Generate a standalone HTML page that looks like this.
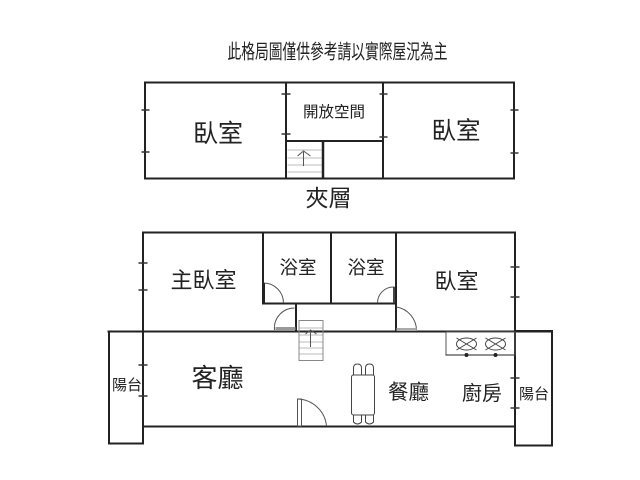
<!DOCTYPE html>
<html>
<head>
<meta charset="utf-8">
<style>
html,body{margin:0;padding:0;background:#fff}
svg{display:block}
text{font-family:"Liberation Sans","Noto Sans CJK TC",sans-serif;fill:#222}
</style>
</head>
<body>
<svg width="640" height="480" viewBox="0 0 640 480" xmlns="http://www.w3.org/2000/svg">
<rect width="640" height="480" fill="#fff"/>

<text x="337.500" y="58.500" font-size="20" text-anchor="middle" textLength="220" lengthAdjust="spacingAndGlyphs">此格局圖僅供參考請以實際屋況為主</text>

<g transform="translate(-0.500,0)">
<!-- Upper floor -->
<g fill="none" stroke="#222" stroke-width="2">
<rect x="145.500" y="82.500" width="369" height="96"/>
<path d="M286.500 82V179M383.500 82V179M287 141H383"/>
<path d="M323.500 141V179" stroke-width="2.500"/>
</g>
<g stroke="#333" stroke-width="1.500">
<path d="M142 110H150M142 152H150M282 94H291M282 134H291M380 94H388M380 137H388M511 110H519M511 153H519"/>
</g>
<g stroke="#bbb" stroke-width="1">
<path d="M288 150H322M288 158H322M288 165H322M288 172H322"/>
</g>
<path d="M304 166V152M298 156L304 151L311 156" fill="none" stroke="#555" stroke-width="1"/>

<!-- Lower floor -->
<g fill="none" stroke="#222" stroke-width="2">
<path d="M143.500 426V232.500H515.500V426"/>
<path d="M263.500 232V303.500H396M331.500 232V303M396.500 232V331M296.500 303V331"/>
<path d="M108 331.500H552"/>
<path d="M109.500 331V443.500H143.500V426"/>
<path d="M515.500 331H552.500V445.500H515.500V426"/>
<path d="M143 426.500H515"/>
</g>
<g stroke="#333" stroke-width="1.500">
<path d="M139 263H148M139 290H148M511 267H520M511 297H520M139 365H148M139 396H148M511 378H520M511 408H520"/>
</g>

<!-- Doors -->
<g fill="none" stroke="#555" stroke-width="1">
<path d="M264 283A20 20 0 0 1 284 303"/>
<path d="M295 308A20 20 0 0 0 275 330"/>
<path d="M395 287A16 16 0 0 0 378 303"/>
<path d="M397 307A24 24 0 0 1 417 330"/>
<path d="M298 399A30 30 0 0 1 327 426"/>
<rect x="298" y="399" width="4" height="27"/>
</g>
<path d="M264 283V303" stroke="#222" stroke-width="3"/>
<path d="M394.500 287V303" stroke="#444" stroke-width="2"/>
<rect x="276" y="327" width="20" height="3" fill="#999"/>
<rect x="397" y="328" width="20" height="3" fill="#aaa"/>

<!-- Stairs -->
<g fill="none" stroke="#888" stroke-width="1">
<rect x="299.500" y="320.500" width="24" height="40"/>
<path d="M300 328H323M300 335H323M300 342H323M300 348H323M300 354H323" stroke="#bbb"/>
</g>
<path d="M311 347V331M306 334L311 330L317 334" fill="none" stroke="#555" stroke-width="1"/>

<!-- Stove -->
<rect x="446.500" y="332" width="69" height="23" fill="none" stroke="#555" stroke-width="1"/>
<path d="M446 355H515" stroke="#222" stroke-width="1"/>
<g fill="none" stroke="#444" stroke-width="1">
<ellipse cx="467" cy="344" rx="10" ry="6"/>
<ellipse cx="496" cy="344" rx="10" ry="6"/>
<path d="M457 338L477 350M477 338L457 350M486 338L506 350M506 338L486 350"/>
</g>
<circle cx="467" cy="355" r="2" fill="#222"/>
<circle cx="496" cy="355" r="2" fill="#222"/>

<!-- Dining table -->
<g fill="#fff" stroke="#444" stroke-width="1">
<path d="M354 375V368Q354 364 358 364Q362 364 362 368V375Z"/>
<path d="M366 375V368Q366 364 370 364Q374 364 374 368V375Z"/>
<path d="M354 414V422Q358 426 362 422V414Z"/>
<path d="M366 414V422Q370 426 374 422V414Z"/>
<rect x="352" y="375" width="23" height="40" rx="2"/>
</g>
</g>

<text x="218" y="142" font-size="25" text-anchor="middle">臥室</text>
<text x="456" y="139" font-size="24.500" text-anchor="middle">臥室</text>
<text x="334" y="117" font-size="15.500" text-anchor="middle">開放空間</text>
<text x="328.500" y="206" font-size="23" text-anchor="middle">夾層</text>

<text x="203.500" y="288" font-size="22" text-anchor="middle">主臥室</text>
<text x="298" y="274" font-size="18.500" text-anchor="middle">浴室</text>
<text x="366" y="274" font-size="18.500" text-anchor="middle">浴室</text>
<text x="456.500" y="289" font-size="22" text-anchor="middle">臥室</text>
<text x="217.500" y="387" font-size="26" text-anchor="middle">客廳</text>
<text x="127" y="390" font-size="15" text-anchor="middle">陽台</text>
<text x="534" y="399" font-size="15" text-anchor="middle">陽台</text>
<text x="408.500" y="399" font-size="20.500" text-anchor="middle">餐廳</text>
<text x="482" y="400" font-size="20" text-anchor="middle">廚房</text>
</svg>
</body>
</html>
